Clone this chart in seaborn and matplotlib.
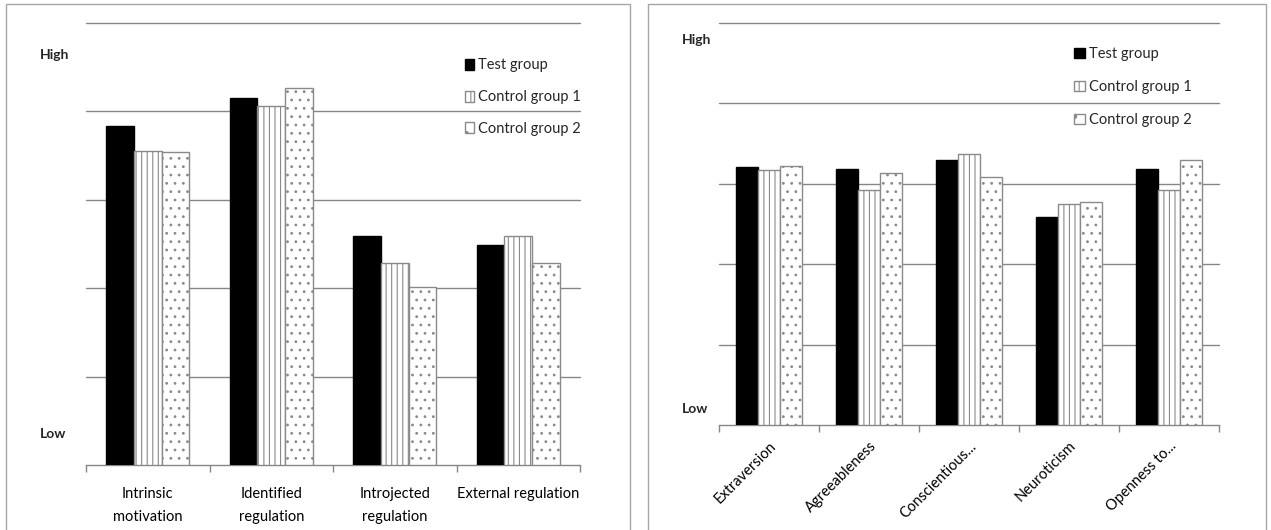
import matplotlib
matplotlib.use("Agg")
import matplotlib.pyplot as plt
import matplotlib.transforms as mtransforms
from matplotlib.patches import Patch, Rectangle
import seaborn as sns
import pandas as pd

# ---- data ----
groups = ["Test group", "Control group 1", "Control group 2"]

left_categories = ["Intrinsic\nmotivation", "Identified\nregulation", "Introjected\nregulation", "External regulation"]
left_test = [3.84, 4.15, 2.59, 2.49]
left_ctrl1 = [3.55, 4.06, 2.29, 2.59]
left_ctrl2 = [3.54, 4.26, 2.01, 2.29]

right_categories = ["Extraversion", "Agreeableness", "Conscientious...", "Neuroticism", "Openness to..."]
right_test = [3.21, 3.18, 3.29, 2.59, 3.18]
right_ctrl1 = [3.17, 2.92, 3.37, 2.75, 2.92]
right_ctrl2 = [3.22, 3.13, 3.09, 2.77, 3.30]

y_labels = ["High", "Low"]

# ---- style ----
sns.set_theme(style="white")
plt.rcParams["font.family"] = ["Lato", "DejaVu Sans"]
plt.rcParams["hatch.linewidth"] = 0.8

GRID = "#868686"
EDGE = "#8a8a8a"
fills = ["#000000", "#ffffff", "#ffffff"]
edges = ["#000000", EDGE, EDGE]
hatches = ["", "|||", ".."]
FS = 10.5


def long_df(cats, a, b, c):
    rows = []
    for vals, g in zip([a, b, c], groups):
        for cat, v in zip(cats, vals):
            rows.append({"cat": cat, "group": g, "val": v})
    return pd.DataFrame(rows)


fig = plt.figure(figsize=(12.71, 5.30), dpi=100)
W, H = 1271, 530


def ax_at(x0, y0, x1, y1):
    return fig.add_axes([x0 / W, 1 - y1 / H, (x1 - x0) / W, (y1 - y0) / H])


# panel borders
for (bx0, bx1) in [(6, 630), (648, 1266)]:
    fig.patches.append(Rectangle((bx0 / W, -0.01), (bx1 - bx0) / W, 1 - 4 / H + 0.01,
                                 transform=fig.transFigure, fill=False,
                                 edgecolor="#a6a6a6", linewidth=1.0))

axL = ax_at(86, 23, 580, 465)
axR = ax_at(719, 23, 1219, 425)


def draw(ax, cats, a, b, c, width):
    df = long_df(cats, a, b, c)
    sns.barplot(data=df, x="cat", y="val", hue="group", order=cats, hue_order=groups,
                palette=fills, width=width, legend=False, ax=ax, linewidth=1.0,
                edgecolor=EDGE, saturation=1)
    for cont, ec, h in zip(ax.containers, edges, hatches):
        for p in cont.patches:
            p.set_edgecolor(ec)
            p.set_hatch(h)
            p.set_zorder(3)
    ax.set_ylim(0, 5)
    ax.set_yticks([1, 2, 3, 4, 5])
    ax.set_yticklabels([])
    ax.yaxis.grid(True, color=GRID, linewidth=1.0)
    ax.set_axisbelow(True)
    for s in ["left", "top", "right"]:
        ax.spines[s].set_visible(False)
    ax.spines["bottom"].set_color(GRID)
    ax.spines["bottom"].set_linewidth(1.0)
    ax.set_xlabel("")
    ax.set_ylabel("")
    n = len(cats)
    ax.set_xlim(-0.5, n - 0.5)
    ax.set_xticks([i - 0.5 for i in range(n + 1)], minor=True)
    ax.tick_params(axis="x", which="minor", length=5, color=GRID, width=1, direction="out", bottom=True)
    ax.tick_params(axis="x", which="major", length=0, labelsize=FS, colors="#000000")
    ax.tick_params(axis="y", length=0)
    for gl in ax.get_ygridlines():
        gl.set_clip_on(False)


draw(axL, left_categories, left_test, left_ctrl1, left_ctrl2, 0.67)
draw(axR, right_categories, right_test, right_ctrl1, right_ctrl2, 0.66)

axL.tick_params(axis="x", which="major", pad=16)
for lab in axL.get_xticklabels():
    lab.set_linespacing(1.8)

plt.setp(axR.get_xticklabels(), rotation=45, ha="right", rotation_mode="anchor")
axR.tick_params(axis="x", which="major", pad=10)

# High / Low labels
for ax, xh, yh, yl in [(axL, -0.093, 4.64, 0.35), (axR, -0.074, 4.79, 0.20)]:
    tr = mtransforms.blended_transform_factory(ax.transAxes, ax.transData)
    ax.text(xh, yh, y_labels[0], transform=tr, ha="left", va="center", fontsize=FS - 0.5, fontweight="bold")
    ax.text(xh, yl, y_labels[1], transform=tr, ha="left", va="center", fontsize=FS - 0.5, fontweight="bold")


def legend(ax, x, y, hl, hh, sp):
    handles = [Patch(facecolor=f, edgecolor=e, hatch=h, linewidth=1.0)
               for f, e, h in zip(fills, edges, ["", "||", "."])]
    ax.legend(handles, groups, loc="upper left", bbox_to_anchor=(x, y), frameon=False,
              fontsize=FS, borderpad=0, borderaxespad=0, handlelength=hl, handleheight=hh,
              handletextpad=0.3, labelspacing=sp)


legend(axL, 0.767, 0.92, 0.6, 0.8, 1.22)
legend(axR, 0.71, 0.94, 0.75, 0.7, 1.3)

fig.savefig("out.png", dpi=100)
